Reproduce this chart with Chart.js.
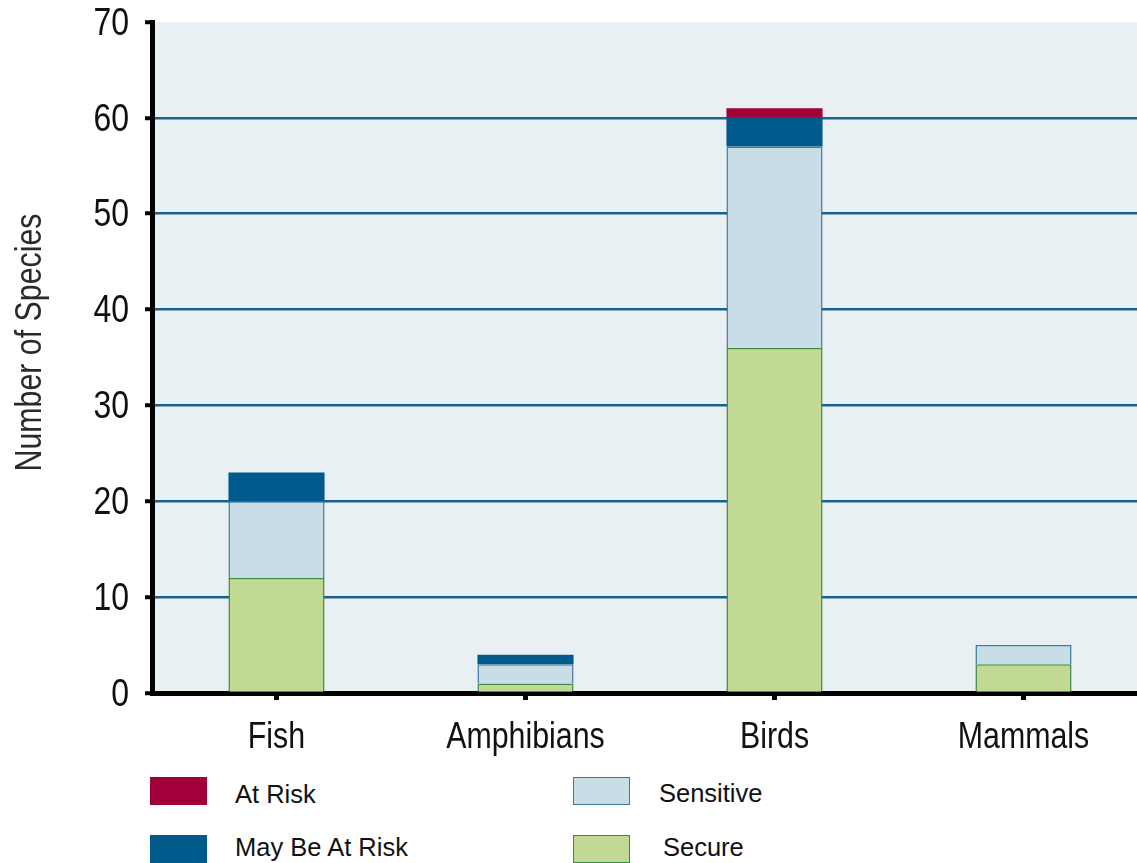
<!DOCTYPE html>
<html>
<head>
<meta charset="utf-8">
<script src="https://cdn.jsdelivr.net/npm/chart.js@4.4.0/dist/chart.umd.min.js"></script>
<style>
  html, body { margin: 0; padding: 0; background: #fff; overflow: hidden; }
  #wrap { position: relative; width: 1137px; height: 863px; overflow: hidden; }
  #box { position: absolute; left: 0; top: 0; width: 1150px; height: 760px; }
  .key { position: absolute; font-family: "Liberation Sans", Arial, sans-serif; font-size: 25.5px; color: #111; }
  .sw { position: absolute; width: 57px; height: 28px; box-sizing: border-box; }
</style>
</head>
<body>
<div id="wrap">
  <div id="box"><canvas id="species_chart"></canvas></div>
  <div class="sw" style="left:150px;top:777px;background:#a1003b;"></div>
  <div class="key" style="left:235px;top:780px;">At Risk</div>
  <div class="sw" style="left:150px;top:835px;background:#005a8c;"></div>
  <div class="key" style="left:235px;top:833px;">May Be At Risk</div>
  <div class="sw" style="left:573px;top:777px;background:#c9dde6;border:1.5px solid #3d7aa0;"></div>
  <div class="key" style="left:659px;top:779px;">Sensitive</div>
  <div class="sw" style="left:573px;top:835px;background:#c2d994;border:1.5px solid #3a8a44;"></div>
  <div class="key" style="left:663px;top:833px;">Secure</div>
</div>
<script>
var groups = ['Fish', 'Amphibians', 'Birds', 'Mammals'];
var secure = [12, 1, 36, 3];
var sensitive = [8, 2, 21, 2];
var mayBeAtRisk = [3, 1, 3, 0];
var atRisk = [0, 0, 1, 0];
var yTicks = [0, 10, 20, 30, 40, 50, 60, 70];
var yTitle = 'Number of Species';

var font = '"Liberation Sans", Arial, sans-serif';
var squeeze = 0.82; // the original uses a narrow face

// light plot background
var plotBg = {
  id: 'plotBg',
  beforeDraw: function (chart) {
    var a = chart.chartArea, c = chart.ctx;
    c.save();
    c.fillStyle = '#e8f0f3';
    c.fillRect(a.left, a.top, a.right - a.left, a.bottom - a.top);
    c.restore();
  }
};

// narrow axis labels, placed from the scales
function narrowText(c, txt, x, y, align) {
  c.save();
  c.translate(x, y);
  c.scale(squeeze, 1);
  c.textAlign = align;
  c.fillText(txt, 0, 0);
  c.restore();
}

var axisText = {
  id: 'axisText',
  afterDraw: function (chart) {
    var c = chart.ctx, xs = chart.scales.x, ys = chart.scales.y, a = chart.chartArea;
    c.save();
    c.fillStyle = '#111';
    c.font = '37px ' + font;
    c.textBaseline = 'alphabetic';
    groups.forEach(function (g, i) {
      narrowText(c, g, xs.getPixelForValue(i), a.bottom + 55, 'center');
    });
    c.font = '39px ' + font;
    c.textBaseline = 'middle';
    yTicks.forEach(function (v) {
      narrowText(c, String(v), 129, ys.getPixelForValue(v) + 2, 'right');
    });
    c.fillStyle = '#2a2a2a';
    c.font = '37px ' + font;
    c.translate(31, (a.top + a.bottom) / 2 - 15);
    c.rotate(-Math.PI / 2);
    narrowText(c, yTitle, 0, 0, 'center');
    c.restore();
  }
};

var ctx = document.getElementById('species_chart').getContext('2d');
var chart = new Chart(ctx, {
  type: 'bar',
  data: {
    labels: groups,
    datasets: [
      { label: 'Secure', data: secure, backgroundColor: '#c2d994', borderColor: '#3a8a44', borderWidth: 1.5 },
      { label: 'Sensitive', data: sensitive, backgroundColor: '#c9dde6', borderColor: '#3d7aa0', borderWidth: 1.5 },
      { label: 'May Be At Risk', data: mayBeAtRisk, backgroundColor: '#005a8c', borderColor: '#005a8c', borderWidth: 0 },
      { label: 'At Risk', data: atRisk, backgroundColor: '#a1003b', borderColor: '#a1003b', borderWidth: 0 }
    ]
  },
  options: {
    responsive: true,
    maintainAspectRatio: false,
    animation: false,
    layout: { padding: { top: 22, right: 2, left: 0, bottom: 0 } },
    datasets: { bar: { categoryPercentage: 1, barPercentage: 0.386 } },
    plugins: { legend: { display: false }, tooltip: { enabled: false } },
    scales: {
      x: {
        stacked: true,
        afterFit: function (s) { s.height = 67; },
        border: { display: true, color: '#000', width: 5 },
        grid: { offset: false, drawOnChartArea: false, tickLength: 7, tickColor: '#000', tickWidth: 5 },
        ticks: { display: false }
      },
      y: {
        stacked: true,
        min: 0,
        max: 70,
        afterFit: function (s) { s.width = 152; },
        afterBuildTicks: function (s) { s.ticks = yTicks.map(function (v) { return { value: v }; }); },
        border: { display: true, color: '#000', width: 5 },
        grid: {
          color: function (c) { return (c.tick && (c.tick.value === 0 || c.tick.value === 70)) ? 'rgba(0,0,0,0)' : '#1d5f8c'; },
          lineWidth: 2.5,
          tickLength: 7,
          tickColor: '#000',
          tickWidth: 4
        },
        ticks: { display: false }
      }
    }
  },
  plugins: [plotBg, axisText]
});
</script>
</body>
</html>
